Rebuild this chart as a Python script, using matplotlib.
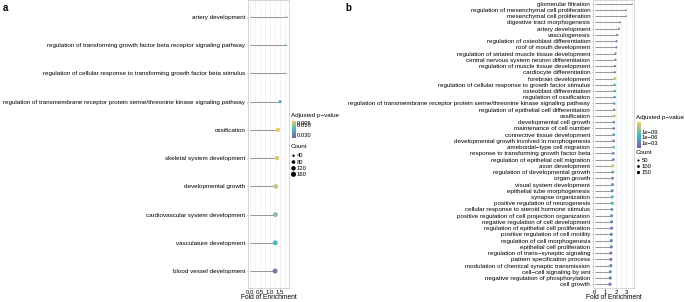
import numpy as np
import matplotlib.pyplot as plt
from matplotlib.colors import LinearSegmentedColormap, Normalize, LogNorm

plt.rcParams['font.family'] = ['Liberation Sans', 'DejaVu Sans']

# panel a
terms_a = [
    "artery development",
    "regulation of transforming growth factor beta receptor signaling pathway",
    "regulation of cellular response to transforming growth factor beta stimulus",
    "regulation of transmembrane receptor protein serine/threonine kinase signaling pathway",
    "ossification",
    "skeletal system development",
    "developmental growth",
    "cardiovascular system development",
    "vasculature development",
    "blood vessel development",
]
fold_a = [1.85, 1.80, 1.77, 1.50, 1.40, 1.35, 1.29, 1.27, 1.26, 1.25]
padj_a = [0.05, 0.018, 0.018, 0.022, 0.0012, 0.003, 0.006, 0.012, 0.018, 0.030]
count_a = [12, 28, 26, 60, 110, 120, 128, 140, 145, 150]

# panel b
terms_b = [
    "glomerular filtration",
    "regulation of mesenchymal cell proliferation",
    "mesenchymal cell proliferation",
    "digestive tract morphogenesis",
    "artery development",
    "vasculogenesis",
    "regulation of osteoblast differentiation",
    "roof of mouth development",
    "regulation of striated muscle tissue development",
    "central nervous system neuron differentiation",
    "regulation of muscle tissue development",
    "cardiocyte differentiation",
    "forebrain development",
    "regulation of cellular response to growth factor stimulus",
    "osteoblast differentiation",
    "regulation of ossification",
    "regulation of transmembrane receptor protein serine/threonine kinase signaling pathway",
    "regulation of epithelial cell differentiation",
    "ossification",
    "developmental cell growth",
    "maintenance of cell number",
    "connective tissue development",
    "developmental growth involved in morphogenesis",
    "ameboidal\u2212type cell migration",
    "response to transforming growth factor beta",
    "regulation of epithelial cell migration",
    "axon development",
    "regulation of developmental growth",
    "organ growth",
    "visual system development",
    "epithelial tube morphogenesis",
    "synapse organization",
    "positive regulation of neurogenesis",
    "cellular response to steroid hormone stimulus",
    "positive regulation of cell projection organization",
    "negative regulation of cell development",
    "regulation of epithelial cell proliferation",
    "positive regulation of cell motility",
    "regulation of cell morphogenesis",
    "epithelial cell proliferation",
    "regulation of trans\u2212synaptic signaling",
    "pattern specification process",
    "modulation of chemical synaptic transmission",
    "cell\u2212cell signaling by wnt",
    "negative regulation of phosphorylation",
    "cell growth",
]
fold_b = [3.54, 2.94, 2.97, 2.37, 2.30, 2.14, 2.05, 2.05, 1.95, 1.95,
          1.90, 1.87, 1.90, 1.87, 1.87, 1.87, 1.84, 1.84, 1.84, 1.80,
          1.80, 1.80, 1.78, 1.78, 1.75, 1.75, 1.71, 1.71, 1.68, 1.68,
          1.65, 1.65, 1.65, 1.62, 1.59, 1.59, 1.59, 1.56, 1.56, 1.56,
          1.52, 1.52, 1.52, 1.46, 1.46, 1.43]
padj_b = [0.9, 1e-2, 1e-2, 1e-2, 1e-5, 1e-2, 3e-3, 3e-3, 1e-3, 1e-5,
          3e-3, 3e-3, 1e-13, 1e-7, 1e-5, 1e-4, 1e-6, 1e-2, 1e-12, 1e-4,
          1e-2, 1e-6, 1e-3, 1e-9, 1e-4, 1e-3, 1e-13, 1e-5, 1e-3, 1e-5,
          1e-4, 1e-7, 1e-8, 3e-3, 3e-4, 1e-3, 1e-3, 1e-4, 1e-3, 1e-3,
          1e-3, 1e-3, 1e-3, 1e-3, 1e-3, 3e-3]
count_b = [12, 20, 24, 40, 50, 45, 55, 50, 55, 65,
           60, 60, 140, 80, 80, 75, 85, 60, 120, 90,
           80, 100, 95, 110, 100, 95, 160, 110, 100, 110,
           120, 130, 150, 100, 120, 130, 130, 140, 140, 140,
           130, 130, 125, 120, 140, 150]

W, H = 685, 302
cmap = LinearSegmentedColormap.from_list(
    "padj", ["#F7CA64", "#46BAC2", "#7E62A3"])


def box(x0, y0, x1, y1):
    return [x0 / W, 1 - y1 / H, (x1 - x0) / W, (y1 - y0) / H]


def dot_size(c, lo, hi, dmin, dmax):
    c = np.clip(np.asarray(c, float), lo, hi)
    d = dmin + (dmax - dmin) * np.sqrt((c - lo) / (hi - lo))
    return (d * 72 / 100) ** 2


def lollipop(ax, terms, fold, padj, count, norm, size_args):
    y = np.arange(len(terms))
    ax.hlines(y, 0, fold, color="#9a9a9a", linewidth=0.75, zorder=2)
    padj = np.asarray(padj)
    ok = (padj >= norm.vmin) & (padj <= norm.vmax)
    cols = [cmap(norm(p)) if k else "#7f7f7f" for p, k in zip(padj, ok)]
    ax.scatter(fold, y, s=dot_size(count, *size_args), c=cols,
               linewidths=0, zorder=3)
    ax.set_yticks(y)
    ax.set_yticklabels(terms, fontsize=4.5)
    ax.set_ylim(len(terms) - 0.4, -0.6)
    mx = max(fold)
    ax.set_xlim(-0.05 * mx, 1.05 * mx)
    ax.grid(axis="x", which="both", color="#eeeeee", linewidth=0.5)
    ax.set_axisbelow(True)
    for s in ax.spines.values():
        s.set_color("#d0d0d0")
        s.set_linewidth(0.6)
    ax.tick_params(axis="both", length=1.0, width=0.4, color="#555555",
                   pad=0.5, labelsize=4.3)
    ax.tick_params(axis="y", labelsize=4.5, pad=1)
    ax.set_xlabel("Fold of Enrichment", fontsize=4.8, labelpad=-0.5)


def legend(fig, x0, ytitle, cb_box, norm, ticks, ticklabels, count_y,
           count_vals, size_args):
    fig.text(x0 / W, 1 - ytitle / H, "Adjusted p\u2212value", fontsize=4.5,
             va="center", ha="left")
    cax = fig.add_axes(box(*cb_box))
    if isinstance(norm, LogNorm):
        vals = np.logspace(np.log10(norm.vmin), np.log10(norm.vmax), 200)
    else:
        vals = np.linspace(norm.vmin, norm.vmax, 200)
    cax.imshow(cmap(norm(vals))[:, None, :], aspect="auto",
               extent=[0, 1, 1, 0])
    cax.set_axis_off()
    for t, lab in zip(ticks, ticklabels):
        if isinstance(norm, LogNorm):
            f = (np.log10(t) - np.log10(norm.vmin)) / (np.log10(norm.vmax) - np.log10(norm.vmin))
        else:
            f = (t - norm.vmin) / (norm.vmax - norm.vmin)
        yy = cb_box[1] + f * (cb_box[3] - cb_box[1])
        fig.text((cb_box[2] + 1.5) / W, 1 - yy / H, lab, fontsize=4.2,
                 va="center", ha="left")
    fig.text(x0 / W, 1 - count_y[0] / H, "Count", fontsize=4.5,
             va="center", ha="left")
    lax = fig.add_axes([0, 0, 1, 1])
    lax.set_xlim(0, W)
    lax.set_ylim(H, 0)
    lax.set_axis_off()
    lax.scatter([x0 + 2.5] * len(count_vals), count_y[1:],
                s=dot_size(count_vals, *size_args), c="black", linewidths=0)
    for yy, c in zip(count_y[1:], count_vals):
        lax.text(x0 + 6, yy, str(c), fontsize=4.2, va="center", ha="left")


fig = plt.figure(figsize=(W / 100, H / 100), dpi=100)

norm_a = Normalize(vmin=0.0003, vmax=0.035)
size_a = (25, 165, 1.0, 5.2)
ax_a = fig.add_axes(box(248, 0, 289, 288))
lollipop(ax_a, terms_a, fold_a, padj_a, count_a, norm_a, size_a)
ax_a.set_xticks([0.0, 0.5, 1.0, 1.5])
ax_a.set_xticks([0.25, 0.75, 1.25, 1.75], minor=True)
ax_a.tick_params(axis="x", which="minor", length=0)
ax_a.set_xticklabels(["0.0", "0.5", "1.0", "1.5"])
legend(fig, 291, 115.5, (291.5, 120.7, 295, 138.3), norm_a,
       [0.005, 0.010, 0.030], ["0.005", "0.010", "0.030"],
       [147, 155.7, 162, 168.3, 174.3], [40, 80, 120, 160], size_a)

norm_b = LogNorm(vmin=10 ** -14.5, vmax=10 ** -0.3)
size_b = (10, 165, 0.8, 3.4)
ax_b = fig.add_axes(box(593, 0, 634, 288))
lollipop(ax_b, terms_b, fold_b, padj_b, count_b, norm_b, size_b)
ax_b.set_xticks([0, 1, 2, 3])
ax_b.set_xticks([0.5, 1.5, 2.5, 3.5], minor=True)
ax_b.tick_params(axis="x", which="minor", length=0)
legend(fig, 636, 117.5, (636.5, 122, 640, 148), norm_b,
       [1e-9, 1e-6, 1e-3], ["1e\u221209", "1e\u221206", "1e\u221203"],
       [152, 160.5, 166.5, 172.5], [50, 100, 150], size_b)

fig.text(3 / W, 1 - 8 / H, "a", fontsize=7, fontweight="bold", va="center")
fig.text(345 / W, 1 - 8 / H, "b", fontsize=7, fontweight="bold", va="center")

fig.savefig("out.png", dpi=100)
